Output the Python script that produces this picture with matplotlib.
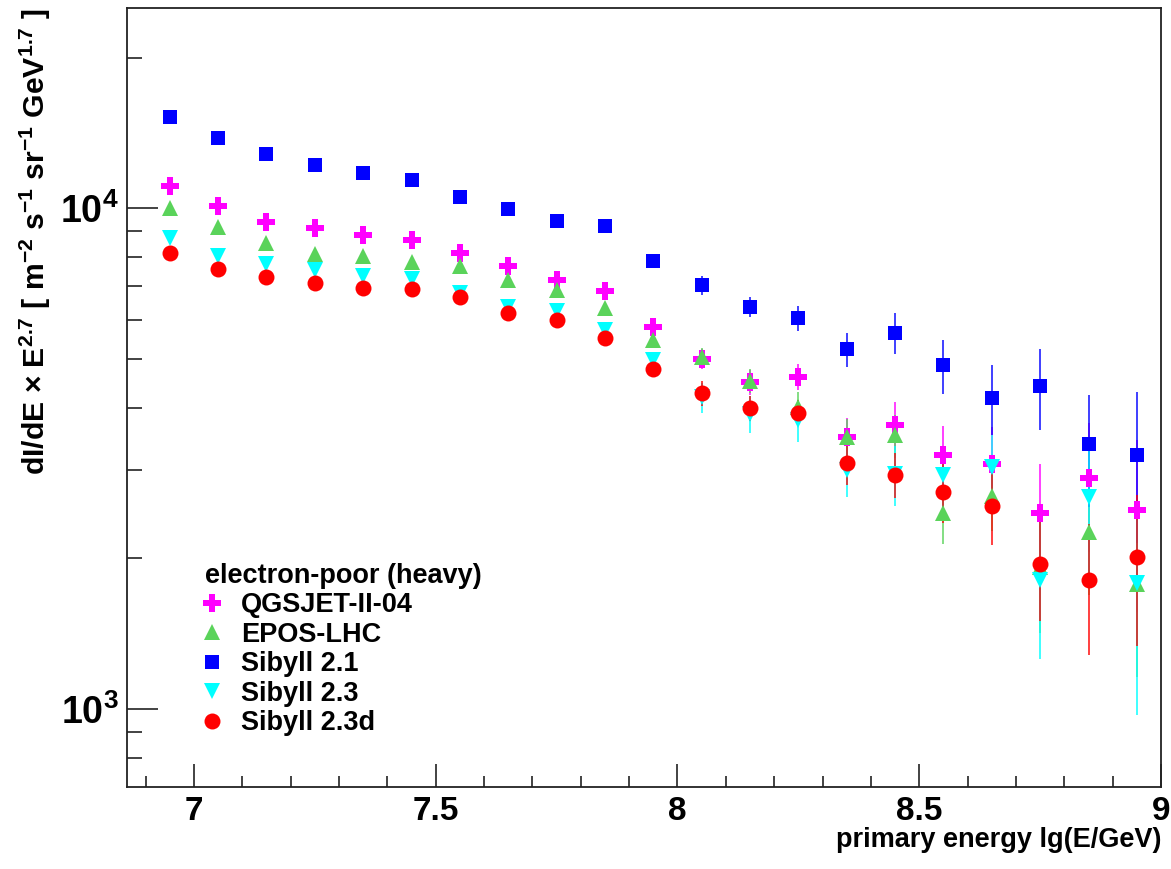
import matplotlib
matplotlib.use("Agg")
import matplotlib.pyplot as plt
from matplotlib.ticker import FixedLocator, NullFormatter
import numpy as np

# energy bins lg(E/GeV)
lgE = [6.95, 7.05, 7.15, 7.25, 7.35, 7.45, 7.55, 7.65, 7.75, 7.85, 7.95,
       8.05, 8.15, 8.25, 8.35, 8.45, 8.55, 8.65, 8.75, 8.85, 8.95]

# flux x E^2.7 for the electron-poor sample, one array per hadronic model
qgsjet = [11100, 10110, 9400, 9150, 8860, 8630, 8140, 7680, 7180, 6840, 5800,
          5010, 4500, 4610, 3500, 3700, 3220, 3090, 2460, 2890, 2500]
qgsjet_err = [90, 90, 90, 90, 90, 90, 100, 100, 110, 120, 150,
              220, 250, 280, 310, 400, 465, 566, 625, 834, 940]

epos = [10000, 9180, 8540, 8100, 8040, 7820, 7670, 7190, 6870, 6320, 5470,
        5050, 4520, 4010, 3500, 3520, 2460, 2670, 1920, 2260, 1780]
epos_err = [80, 80, 80, 80, 90, 90, 90, 100, 100, 110, 140,
            220, 250, 280, 300, 340, 320, 400, 500, 570, 620]

sibyll21 = [15240, 13800, 12840, 12240, 11780, 11390, 10520, 9970, 9460, 9220, 7860,
            7030, 6360, 6040, 5230, 5650, 4860, 4190, 4420, 3390, 3220]
sibyll21_err = [110, 110, 110, 110, 120, 120, 130, 140, 150, 170, 220,
                300, 280, 350, 400, 535, 600, 670, 810, 860, 1070]

sibyll23 = [8710, 8050, 7740, 7550, 7320, 7220, 6780, 6360, 6240, 5730, 4990,
            4200, 3890, 3780, 3000, 2950, 2930, 3050, 1810, 2650, 1790]
sibyll23_err = [80, 80, 80, 80, 80, 90, 90, 100, 110, 120, 150,
                290, 326, 368, 353, 408, 424, 480, 550, 790, 815]

sibyll23d = [8150, 7570, 7280, 7110, 6950, 6900, 6640, 6190, 5980, 5500, 4770,
             4280, 3990, 3910, 3100, 2940, 2720, 2550, 1950, 1810, 2010]
sibyll23d_err = [70, 70, 70, 70, 80, 80, 80, 90, 100, 110, 140,
                 250, 230, 240, 295, 305, 365, 423, 452, 530, 670]

labels = ["QGSJET-II-04", "EPOS-LHC", "Sibyll 2.1", "Sibyll 2.3", "Sibyll 2.3d"]

plt.rcParams["font.family"] = ["Liberation Sans", "DejaVu Sans"]
plt.rcParams["font.weight"] = "bold"
plt.rcParams["mathtext.fontset"] = "custom"
plt.rcParams["mathtext.rm"] = "Liberation Sans:bold"
plt.rcParams["mathtext.bf"] = "Liberation Sans:bold"
plt.rcParams["mathtext.it"] = "Liberation Sans:bold:italic"

fig = plt.figure(figsize=(11.71, 8.69), dpi=100)
ax = fig.add_axes([0.1082, 0.0947, 0.8833, 0.8961])

series = [
    (qgsjet, qgsjet_err, "P", 12.5, "#ff00ff"),
    (epos, epos_err, "^", 11, "#5ad35a"),
    (sibyll21, sibyll21_err, "s", 10, "#0000ff"),
    (sibyll23, sibyll23_err, "v", 11, "#00ffff"),
    (sibyll23d, sibyll23d_err, "o", 11.5, "#ff0000"),
]

handles = []
for (vals, errs, mk, ms, col), lab in zip(series, labels):
    h = ax.errorbar(lgE, vals, yerr=errs, fmt=mk, ms=ms, color=col,
                    mec=col, mew=0, ecolor=col, elinewidth=1.4,
                    capsize=3.5, capthick=1.4, label=lab)
    for line in h[2]:
        line.set_alpha(0.75)
    for cap in h[1]:
        cap.set_alpha(0.75)
    handles.append(h[0])

ax.set_yscale("log")
ax.set_xlim(6.861, 9.0)
ax.set_ylim(700, 25140)

ax.xaxis.set_major_locator(FixedLocator([7, 7.5, 8, 8.5, 9]))
ax.xaxis.set_minor_locator(FixedLocator(np.arange(6.9, 9.0, 0.1)))
ax.set_xticklabels(["7", "7.5", "8", "8.5", "9"], fontsize=24, fontweight="bold")

ax.yaxis.set_major_locator(FixedLocator([1e3, 1e4]))
ax.yaxis.set_minor_locator(FixedLocator([800, 900] + list(range(2000, 10000, 1000)) + [20000]))
ax.yaxis.set_minor_formatter(NullFormatter())
ax.set_yticklabels([r"$\mathbf{10^{3}}$", r"$\mathbf{10^{4}}$"], fontsize=27)

ax.tick_params(which="both", direction="in", top=False, right=False,
               width=1.2, color="#222222")
ax.tick_params(axis="x", which="major", length=16.3, pad=7)
ax.tick_params(axis="x", which="minor", length=8.2)
ax.tick_params(axis="y", which="major", length=22, pad=6)
ax.tick_params(axis="y", which="minor", length=11)
for sp in ax.spines.values():
    sp.set_linewidth(1.3)
    sp.set_color("#222222")

fig.text(1161 / 1171, 1 - 840 / 869, "primary energy lg(E/GeV)",
         ha="right", va="center", fontsize=19.5, fontweight="bold")
fig.text(35 / 1171, 1 - 8 / 869,
         r"dI/dE $\times$ E$^{2.7}$ [ m$^{-2}$ s$^{-1}$ sr$^{-1}$ GeV$^{1.7}$ ]",
         rotation=90, ha="center", va="top", fontsize=21.7, fontweight="bold")

leg = ax.legend(handles, labels, title="electron-poor (heavy)", frameon=False,
                loc="upper left", bbox_to_anchor=(0.057, 0.312),
                prop={"size": 19.5, "weight": "bold"},
                title_fontproperties={"size": 19.5, "weight": "bold"},
                alignment="left", handletextpad=0.8, labelspacing=0.13,
                handlelength=0.55, borderpad=0.2)

fig.savefig("out.png", dpi=100)
